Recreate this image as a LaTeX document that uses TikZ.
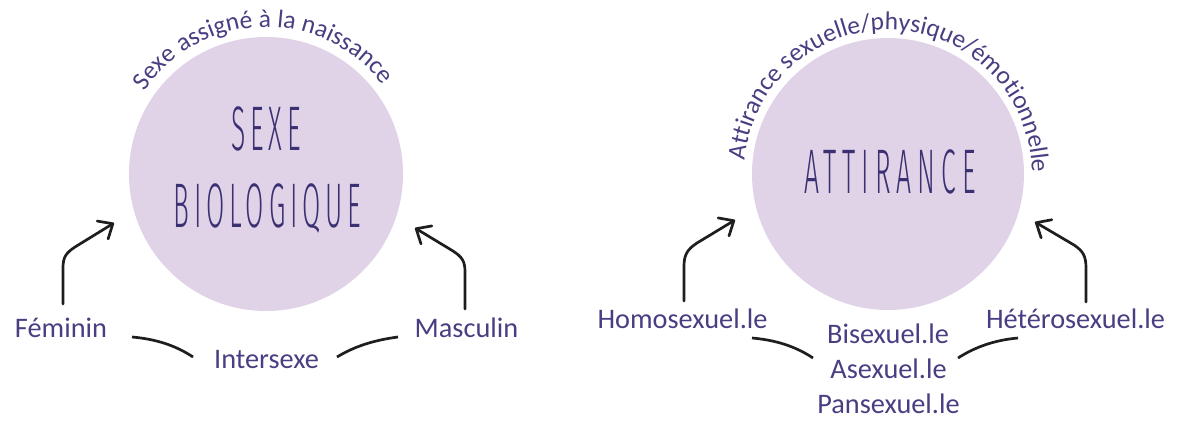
\documentclass[tikz,border=0pt]{standalone}
\usepackage{fontspec}
\setmainfont{Carlito}
\newfontfamily\titlefont[FakeStretch=0.42,LetterSpace=7.7]{Fira Sans Light}
\usetikzlibrary{arrows.meta,decorations.text}
\definecolor{txt}{RGB}{72,62,130}
\definecolor{ttlcol}{RGB}{58,48,114}
\definecolor{discfill}{RGB}{224,211,232}
\definecolor{ink}{RGB}{30,30,30}
\newcommand\arcfnt{\fontsize{25.5}{30}\selectfont\color{txt}}
\begin{document}
\begin{tikzpicture}[x=1pt,y=1pt,
  lbl/.style={text=txt, font=\fontsize{28.3}{34}\selectfont, inner sep=0pt, anchor=base},
  ttlstyle/.style={text=ttlcol, font=\titlefont\fontsize{63}{76}\selectfont, inner sep=0pt, anchor=base},
  disc/.style={circle, fill=discfill, minimum size=274pt, inner sep=0pt},
  arr/.style={draw=ink, line width=2.7pt, line cap=round, line join=round, -{Straight Barb[length=12pt,width=21pt,line cap=round,line join=round]}},
  link/.style={draw=ink, line width=2.7pt},
  arctext/.style={decorate, decoration={text along path, text align=center, text={|\arcfnt|#1}}}
]
\useasboundingbox (0,0) rectangle (1187,-421);

% circles
\node[disc] (c1) at (266,-174) {};
\node[disc, minimum size=272pt] (c2) at (888,-174) {};

% titles
\node[ttlstyle] (t1) at (266,-150) {SEXE};
\node[ttlstyle] (t2) at (267.5,-227) {BIOLOGIQUE};
\node[ttlstyle] (t3) at (890,-193) {\addfontfeature{LetterSpace=9.5}ATTIRANCE};

% arc texts
\path[arctext={Sexe assigné à la naissance}] (c1.center) ++(162:147) arc[start angle=162, end angle=21, radius=147pt];
\path[arctext={Attirance sexuelle/physique/émotionnelle}] (c2.center) ++(178:144) arc[start angle=178, end angle=-3, radius=144pt];

% labels
\node[lbl] (fem) at (61,-337) {Féminin};
\node[lbl] (inter) at (266.5,-368) {Intersexe};
\node[lbl] (masc) at (466.5,-337) {Masculin};
\node[lbl] (homo) at (682.5,-328) {Homosexuel.le};
\node[lbl] (hetero) at (1075.5,-328) {Hétérosexuel.le};
\node[lbl] (bi) at (888,-343) {Bisexuel.le};
\node[lbl] (ase) at (888.5,-378) {Asexuel.le};
\node[lbl] (pan) at (888.5,-413) {Pansexuel.le};

% connector end points
\coordinate (femOut) at (63,-304);
\coordinate (femTip) at (114,-223);
\coordinate (mascOut) at (465,-309);
\coordinate (mascTip) at (415,-228);
\coordinate (homoOut) at (684,-301);
\coordinate (homoTip) at (735,-220);
\coordinate (hetOut) at (1086,-302);
\coordinate (hetTip) at (1035,-222);
\coordinate (femR) at (132,-337);
\coordinate (interL) at (193,-357);
\coordinate (interR) at (337,-357);
\coordinate (mascL) at (398,-337);
\coordinate (homoR) at (752,-338);
\coordinate (midL) at (813,-358);
\coordinate (midR) at (958,-358);
\coordinate (hetL) at (1018,-338);

% arrows
\draw[arr] (femOut) -- ++(0,36) .. controls +(0,11) and (66,-253) .. (75,-247) -- (femTip);
\draw[arr] (mascOut) -- ++(0,37) .. controls +(0,11) and (462,-257) .. (453,-251) -- (mascTip);
\draw[arr] (homoOut) -- ++(0,35) .. controls +(0,12) and (688,-249) .. (697,-243) -- (homoTip);
\draw[arr] (hetOut) -- ++(0,34) .. controls +(0,12) and (1083,-251) .. (1074,-245) -- (hetTip);

% links
\draw[link] (femR) .. controls (155,-339) and (175,-345) .. (interL);
\draw[link] (interR) .. controls (355,-346) and (375,-340) .. (mascL);
\draw[link] (homoR) .. controls (775,-340) and (795,-346) .. (midL);
\draw[link] (midR) .. controls (975,-347) and (995,-340) .. (hetL);
\end{tikzpicture}
\end{document}
